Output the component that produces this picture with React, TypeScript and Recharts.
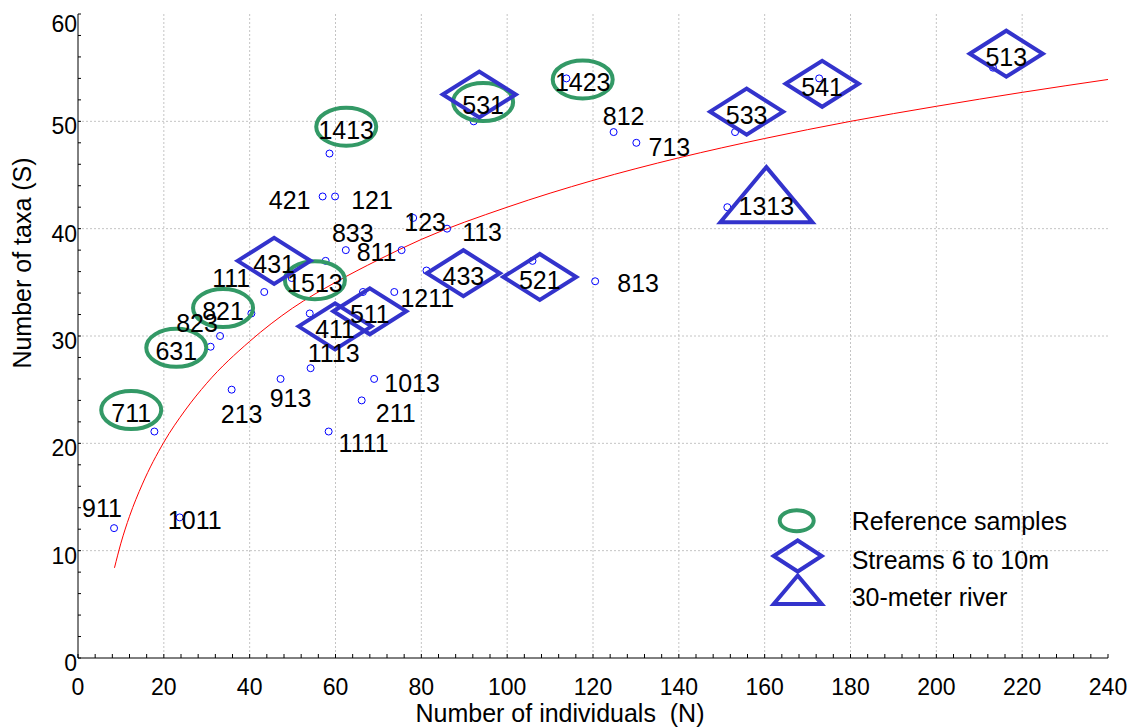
import { ComposedChart, Scatter, Line, XAxis, YAxis, CartesianGrid } from "recharts";

// sample points (individuals N, taxa S)
const SAMPLE_IDS = [
  "911", "1011", "711", "213", "913", "1111", "211", "1013", "1113", "631",
  "823", "821", "111", "431", "1513", "411", "511", "1211", "833", "811",
  "433", "113", "1413", "421", "121", "123", "531", "1423", "812", "713",
  "521", "813", "533", "1313", "541", "513",
];
const SAMPLE_N = [
  8.4, 23.7, 17.8, 35.8, 47.2, 58.4, 66.1, 69.0, 54.2, 30.9,
  33.1, 40.4, 43.4, 57.7, 49.8, 54.0, 66.4, 73.7, 62.4, 75.4,
  81.2, 86.0, 58.6, 57.0, 59.9, 78.1, 92.2, 113.8, 124.8, 130.1,
  105.9, 120.5, 153.1, 151.3, 172.7, 213.2,
];
const SAMPLE_S = [
  12.1, 13.1, 21.1, 25.0, 26.0, 21.1, 24.0, 26.0, 27.0, 29.0,
  30.0, 32.1, 34.1, 37.0, 35.4, 32.1, 34.1, 34.1, 38.0, 38.0,
  36.1, 40.0, 47.0, 43.0, 43.0, 41.0, 50.0, 54.0, 49.0, 48.0,
  37.0, 35.1, 49.0, 42.0, 54.0, 55.0,
];

// highlighted groups (centre of the marker around the label)
const REF_IDS = ["711", "631", "821", "1513", "1413", "531", "1423"];
const REF_N = [12.4, 22.9, 33.8, 55.2, 62.5, 94.4, 117.6];
const REF_S = [23.1, 28.9, 32.6, 35.2, 49.5, 51.8, 53.9];

const STREAM_IDS = ["431", "411", "511", "433", "521", "531", "533", "541", "513"];
const STREAM_N = [45.7, 59.9, 68.0, 89.8, 107.6, 93.5, 155.8, 173.4, 216.3];
const STREAM_S = [37.0, 30.9, 32.3, 35.85, 35.5, 52.5, 50.9, 53.5, 56.3];

const RIVER_IDS = ["1313"];
const RIVER_N = [160.4];
const RIVER_S = [42.1];

// red fitted curve
const FIT_N = [8.5, 10, 12, 15, 20, 25, 30, 40, 50, 60, 70, 80, 100, 120, 140, 160, 180, 200, 220, 240];
const FIT_S = [8.4, 10.7, 13.2, 16.2, 20.1, 23.1, 25.6, 29.5, 32.6, 35.0, 37.1, 39.0, 42.0, 44.5, 46.6, 48.4, 50.0, 51.4, 52.7, 53.9];

const X_MAJOR = [0, 20, 40, 60, 80, 100, 120, 140, 160, 180, 200, 220, 240];
const Y_MAJOR = [0, 10, 20, 30, 40, 50, 60];
const X_MINOR = Array.from({ length: 61 }, (_, i) => i * 4);
const Y_MINOR = Array.from({ length: 31 }, (_, i) => i * 2);

const LEGEND = ["Reference samples", "Streams 6 to 10m", "30-meter river"];

// pixel offsets of labels that sit beside their point (x centre, baseline)
const LABEL_OFFSET: Record<string, [number, number]> = {
  "911": [-12, -11], "1011": [15, 12], "213": [10, 33], "913": [10, 28],
  "1111": [35, 20], "211": [34, 22], "1013": [38, 13], "1113": [23, -6],
  "823": [-23, -4], "111": [-33, -5], "1211": [33, 15], "833": [7, -8],
  "811": [-25, 11], "421": [-33, 13], "121": [37, 13], "123": [12, 13],
  "113": [35, 12], "813": [43, 11], "812": [10, -7], "713": [33, 13],
};

const FONT = "'Liberation Sans', Arial, sans-serif";
const GREEN = "#339966";
const BLUE = "#3333cc";

const samples = SAMPLE_IDS.map((id, i) => ({ id, N: SAMPLE_N[i], S: SAMPLE_S[i] }));
const refs = REF_IDS.map((id, i) => ({ id, N: REF_N[i], S: REF_S[i] }));
const streams = STREAM_IDS.map((id, i) => ({ id, N: STREAM_N[i], S: STREAM_S[i] }));
const rivers = RIVER_IDS.map((id, i) => ({ id, N: RIVER_N[i], S: RIVER_S[i] }));
const fit = FIT_N.map((n, i) => ({ N: n, S: FIT_S[i] }));

const labels = samples.map((p) => {
  const r = refs.find((d) => d.id === p.id);
  if (r) return { id: p.id, N: r.N, S: r.S, inside: true, dx: 0, dy: 3 };
  const s = streams.find((d) => d.id === p.id);
  if (s) return { id: p.id, N: s.N, S: s.S, inside: true, dx: 0, dy: 3 };
  const t = rivers.find((d) => d.id === p.id);
  if (t) return { id: p.id, N: t.N, S: t.S, inside: true, dx: 0, dy: 0 };
  const [dx, dy] = LABEL_OFFSET[p.id] ?? [10, 10];
  return { id: p.id, N: p.N, S: p.S, inside: false, dx, dy };
});

function diamondPath(cx: number, cy: number, hw: number, hh: number) {
  return `M${cx - hw},${cy} L${cx},${cy - hh} L${cx + hw},${cy} L${cx},${cy + hh} Z`;
}

function trianglePath(cx: number, top: number, bottom: number, hw: number) {
  return `M${cx},${top} L${cx + hw},${bottom} L${cx - hw},${bottom} Z`;
}

function XTick({ x, y, payload }: any) {
  if (payload.value % 20 !== 0) return <g />;
  return (
    <text x={x} y={y + 16} textAnchor="middle" fontSize={23} fill="#000" fontFamily={FONT}>
      {payload.value}
    </text>
  );
}

function YTick({ x, y, payload }: any) {
  if (payload.value % 10 !== 0) return <g />;
  const shift = payload.value === 60 ? 10 : 5;
  return (
    <text x={x} y={y + shift} textAnchor="end" dominantBaseline="central" fontSize={23} fill="#000" fontFamily={FONT}>
      {payload.value}
    </text>
  );
}

function Legendary() {
  const lx = 760;
  const ly = 500;
  return (
    <g fontFamily={FONT}>
      <ellipse cx={lx + 28.7} cy={ly + 12.7} rx={17} ry={10.5} fill="none" stroke={GREEN} strokeWidth={4} />
      <path d={diamondPath(lx + 29.7, ly + 48, 24, 15.5)} fill="none" stroke={BLUE} strokeWidth={4} />
      <path d={trianglePath(lx + 29.7, ly + 67.5, ly + 96, 24)} fill="none" stroke={BLUE} strokeWidth={4} />
      {LEGEND.map((t, i) => (
        <text key={t} x={lx + 83.7} y={ly + [22, 61, 98][i]} fontSize={25} fill="#000">
          {t}
        </text>
      ))}
    </g>
  );
}

export default function App() {
  return (
    <ComposedChart width={1130} height={719} margin={{ top: 6, right: 30, left: 0, bottom: 0 }} style={{ fontFamily: FONT }}>
      <CartesianGrid
        xAxisId="x"
        yAxisId="y"
        verticalValues={X_MAJOR.slice(1, -1)}
        horizontalValues={Y_MAJOR.slice(1, -1)}
        stroke="#c4c4c4"
        strokeDasharray="2 2"
      />
      <XAxis
        xAxisId="x"
        type="number"
        dataKey="N"
        domain={[0, 240]}
        ticks={X_MINOR}
        interval={0}
        allowDataOverflow
        height={69}
        tickSize={-4}
        tickMargin={25}
        stroke="#000"
        tick={<XTick />}
        label={{
          content: () => (
            <text x={552} y={714} textAnchor="middle" fontSize={25} fill="#000" fontFamily={FONT} style={{ whiteSpace: "pre" }}>
              {"Number of individuals  (N)"}
            </text>
          ),
        }}
      />
      <XAxis
        xAxisId="top"
        orientation="top"
        type="number"
        domain={[0, 240]}
        ticks={X_MINOR}
        interval={0}
        allowDataOverflow
        height={0}
        tickSize={-3}
        tick={false}
        stroke="#000"
      />
      <YAxis
        yAxisId="y"
        type="number"
        dataKey="S"
        domain={[0, 60]}
        ticks={Y_MINOR}
        interval={0}
        allowDataOverflow
        width={70}
        tickSize={-3}
        tickMargin={4}
        stroke="#000"
        tick={<YTick />}
        label={{
          content: () => (
            <text transform="translate(23,255) rotate(-90)" textAnchor="middle" fontSize={25} fill="#000" fontFamily={FONT}>
              Number of taxa (S)
            </text>
          ),
        }}
      />
      <YAxis
        yAxisId="right"
        orientation="right"
        type="number"
        domain={[0, 60]}
        ticks={Y_MINOR}
        interval={0}
        allowDataOverflow
        width={0}
        tickSize={-3}
        tick={false}
        stroke="#000"
      />
      <Line
        xAxisId="x"
        yAxisId="y"
        data={fit}
        dataKey="S"
        type="monotone"
        stroke="#ff0000"
        strokeWidth={1}
        dot={false}
        isAnimationActive={false}
      />
      <Scatter
        xAxisId="x"
        yAxisId="y"
        name="samples"
        data={samples}
        isAnimationActive={false}
        shape={(p: any) => <circle cx={p.cx} cy={p.cy} r={3.5} fill="none" stroke="#0000ff" strokeWidth={1} />}
      />
      <Scatter
        xAxisId="x"
        yAxisId="y"
        name={LEGEND[0]}
        data={refs}
        isAnimationActive={false}
        shape={(p: any) => <ellipse cx={p.cx} cy={p.cy} rx={30} ry={19} fill="none" stroke={GREEN} strokeWidth={4} />}
      />
      <Scatter
        xAxisId="x"
        yAxisId="y"
        name={LEGEND[1]}
        data={streams}
        isAnimationActive={false}
        shape={(p: any) => <path d={diamondPath(p.cx, p.cy, 36.5, 23)} fill="none" stroke={BLUE} strokeWidth={4} />}
      />
      <Scatter
        xAxisId="x"
        yAxisId="y"
        name={LEGEND[2]}
        data={rivers}
        isAnimationActive={false}
        shape={(p: any) => <path d={trianglePath(p.cx, p.cy - 39, p.cy + 16, 46)} fill="none" stroke={BLUE} strokeWidth={4} />}
      />
      <Scatter
        xAxisId="x"
        yAxisId="y"
        name="labels"
        data={labels}
        isAnimationActive={false}
        shape={(p: any) => (
          <text
            x={p.cx + p.payload.dx}
            y={p.cy + p.payload.dy}
            textAnchor="middle"
            dominantBaseline={p.payload.inside ? "central" : "alphabetic"}
            fontSize={25}
            fill="#000"
            fontFamily={FONT}
          >
            {p.payload.id}
          </text>
        )}
      />
      <Legendary />
    </ComposedChart>
  );
}
